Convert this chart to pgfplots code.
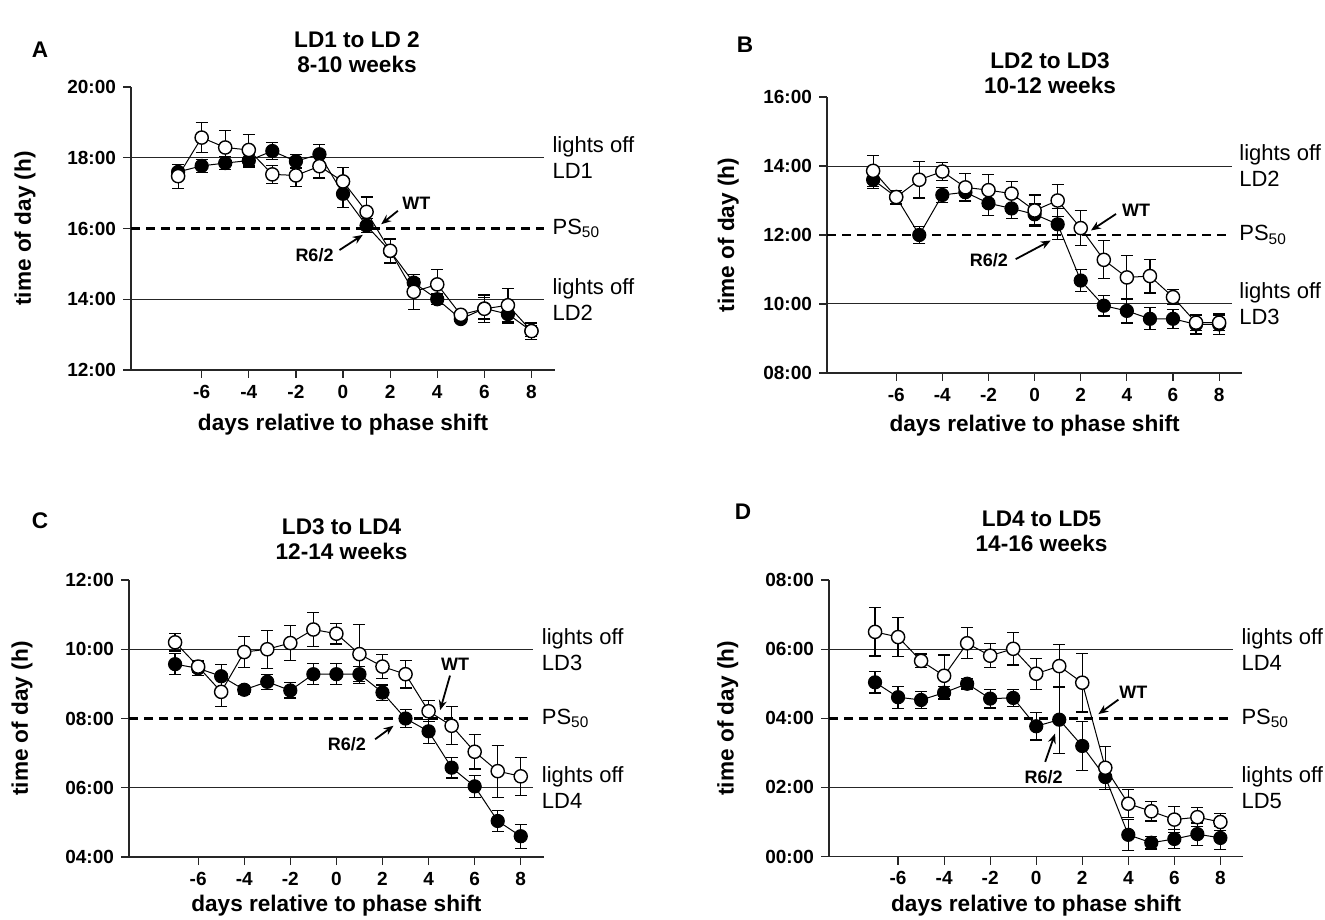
\documentclass[border=0pt]{standalone}
\usepackage{fontspec}
\setmainfont{Liberation Sans}
\usepackage{pgfplots}
\pgfplotsset{compat=1.18}
\usepackage{pgfplotstable}
\usetikzlibrary{arrows.meta}

\pgfplotstableread{
x y e
-7 17.48 0.34
-6 18.57 0.42
-5 18.29 0.48
-4 18.22 0.44
-3 17.53 0.25
-2 17.50 0.32
-1 17.76 0.33
0 17.33 0.39
1 16.47 0.42
2 15.37 0.33
3 14.21 0.49
4 14.42 0.43
5 13.56 0.10
6 13.73 0.39
7 13.83 0.47
8 13.10 0.23
}\AWT
\pgfplotstableread{
x y e
-7 17.60 0.20
-6 17.77 0.19
-5 17.85 0.18
-4 17.92 0.18
-3 18.19 0.24
-2 17.90 0.19
-1 18.10 0.27
0 16.98 0.38
1 16.08 0.20
2 15.36 0.35
3 14.47 0.12
4 14.00 0.15
5 13.44 0.10
6 13.74 0.30
7 13.58 0.25
8 13.10 0.15
}\ARS
\pgfplotstableread{
x y e
-7 13.86 0.45
-6 13.10 0.20
-5 13.60 0.53
-4 13.84 0.26
-3 13.38 0.40
-2 13.30 0.46
-1 13.20 0.35
0 12.71 0.45
1 13.00 0.47
2 12.20 0.50
3 11.28 0.55
4 10.77 0.63
5 10.81 0.49
6 10.20 0.22
7 9.46 0.22
8 9.46 0.22
}\BWT
\pgfplotstableread{
x y e
-7 13.60 0.25
-6 13.10 0.20
-5 12.00 0.25
-4 13.16 0.22
-3 13.24 0.25
-2 12.92 0.35
-1 12.77 0.30
0 12.60 0.30
1 12.31 0.45
2 10.68 0.32
3 9.95 0.30
4 9.80 0.35
5 9.57 0.32
6 9.57 0.28
7 9.41 0.28
8 9.41 0.30
}\BRS
\pgfplotstableread{
x y e
-7 10.20 0.25
-6 9.50 0.18
-5 8.77 0.42
-4 9.92 0.44
-3 10.00 0.55
-2 10.18 0.50
-1 10.57 0.50
0 10.45 0.30
1 9.86 0.85
2 9.50 0.35
3 9.28 0.40
4 8.21 0.30
5 7.79 0.55
6 7.04 0.50
7 6.48 0.75
8 6.33 0.55
}\CWT
\pgfplotstableread{
x y e
-7 9.57 0.30
-6 9.45 0.20
-5 9.22 0.35
-4 8.83 0.12
-3 9.06 0.22
-2 8.81 0.22
-1 9.28 0.30
0 9.28 0.30
1 9.28 0.22
2 8.75 0.22
3 8.00 0.25
4 7.63 0.35
5 6.58 0.30
6 6.04 0.32
7 5.04 0.30
8 4.60 0.35
}\CRS
\pgfplotstableread{
x y e
-7 6.50 0.70
-6 6.35 0.57
-5 5.66 0.20
-4 5.23 0.60
-3 6.17 0.45
-2 5.81 0.35
-1 6.01 0.47
0 5.29 0.45
1 5.51 0.62
2 5.03 0.85
3 2.57 0.62
4 1.53 0.40
5 1.31 0.28
6 1.07 0.37
7 1.14 0.28
8 1.00 0.25
}\DWT
\pgfplotstableread{
x y e
-7 5.04 0.31
-6 4.61 0.32
-5 4.53 0.25
-4 4.74 0.18
-3 5.00 0.15
-2 4.57 0.27
-1 4.59 0.25
0 3.77 0.40
1 3.96 0.97
2 3.20 0.70
3 2.30 0.37
4 0.63 0.45
5 0.40 0.18
6 0.51 0.27
7 0.65 0.32
8 0.54 0.33
}\DRS

\newcommand\tkf{\fontsize{9.5}{11}\selectfont\bfseries}
\newcommand\lbf{\fontsize{11.3}{13}\selectfont\bfseries}
\newcommand\rtf{\fontsize{11}{13}\selectfont}
\newcommand\anf{\fontsize{9}{10}\selectfont\bfseries}

\tikzset{rl/.style={anchor=west, align=left, font=\rtf, inner sep=0pt}}

\pgfplotsset{
  panel/.style={
    scale only axis, anchor=south west,
    axis lines=left, axis line style={-, line width=0.6pt, black!85},
    tick align=outside, major tick length=4pt,
    tick style={line width=0.6pt, black!85},
    xmin=-9, xmax=9,
    xtick={-6,-4,-2,0,2,4,6,8},
    xticklabels={-6,-4,-2,0,2,4,6,8},
    ticklabel style={font=\tkf},
    xlabel={days relative to phase shift},
    ylabel={time of day (h)},
    label style={font=\lbf},
    clip=false,
  },
  rs/.style={black, line width=0.5pt, mark=*, mark size=3.3pt,
    mark options={fill=black, solid},
    error bars/.cd, y dir=both, y explicit,
    error bar style={line width=0.6pt, black},
    error mark options={rotate=90, mark size=3pt, line width=0.6pt, black}},
  wt/.style={black, line width=0.5pt, mark=*, mark size=3.3pt,
    mark options={fill=white, draw=black, line width=0.7pt, solid},
    error bars/.cd, y dir=both, y explicit,
    error bar style={line width=0.6pt, black},
    error mark options={rotate=90, mark size=3pt, line width=0.6pt, black}},
  ref/.style={no marks, line width=0.5pt, black!85},
  ps/.style={no marks, line width=1.3pt, black, dash pattern=on 4.5pt off 3pt},
}

\begin{document}
\begin{tikzpicture}
\useasboundingbox (0,0) rectangle (662.5pt,459.5pt);

% ---------------- A
\begin{axis}[panel, at={(65.5pt,274.5pt)}, width=212pt, height=141.5pt,
  ymin=12, ymax=20, ytick={12,14,16,18,20},
  yticklabels={12:00,14:00,16:00,18:00,20:00},
  xlabel style={at={(axis description cs:0.5,-0.194)}, anchor=center},
  ylabel style={at={(axis description cs:-0.25,0.5)}, anchor=center}]
\addplot[ref] coordinates {(-9,18) (8.55,18)};
\addplot[ref] coordinates {(-9,14) (8.55,14)};
\addplot[ps] coordinates {(-9,16) (8.55,16)};
\addplot[rs] table[x=x,y=y,y error=e] {\ARS};
\addplot[wt] table[x=x,y=y,y error=e] {\AWT};
\node[rl] at (axis cs:8.88,18) {lights off\\LD1};
\node[rl] at (axis cs:8.88,14) {lights off\\LD2};
\node[rl] at (axis cs:8.88,16) {PS\textsubscript{50}};
\node[font=\anf] at (axis cs:3.11,16.71) {WT};
\draw[-{Stealth[length=5pt,width=4pt]}, line width=0.9pt] (axis cs:2.33,16.50) -- (axis cs:1.62,16.12);
\node[font=\anf] at (axis cs:-1.21,15.25) {R6/2};
\draw[-{Stealth[length=5pt,width=4pt]}, line width=0.9pt] (axis cs:-0.15,15.39) -- (axis cs:0.84,15.82);
\end{axis}

% ---------------- B
\begin{axis}[panel, at={(413.5pt,273pt)}, width=207.6pt, height=138pt,
  ymin=8, ymax=16, ytick={8,10,12,14,16},
  yticklabels={08:00,10:00,12:00,14:00,16:00},
  xlabel style={at={(axis description cs:0.5,-0.192)}, anchor=center},
  ylabel style={at={(axis description cs:-0.238,0.5)}, anchor=center}]
\addplot[ref] coordinates {(-9,14) (8.55,14)};
\addplot[ref] coordinates {(-9,10) (8.55,10)};
\addplot[ps] coordinates {(-9,12) (8.55,12)};
\addplot[rs] table[x=x,y=y,y error=e] {\BRS};
\addplot[wt] table[x=x,y=y,y error=e] {\BWT};
\node[rl] at (axis cs:8.86,14) {lights off\\LD2};
\node[rl] at (axis cs:8.86,10) {lights off\\LD3};
\node[rl] at (axis cs:8.86,12) {PS\textsubscript{50}};
\node[font=\anf] at (axis cs:4.40,12.72) {WT};
\draw[-{Stealth[length=5pt,width=4pt]}, line width=0.9pt] (axis cs:3.53,12.61) -- (axis cs:2.44,12.13);
\node[font=\anf] at (axis cs:-1.98,11.26) {R6/2};
\draw[-{Stealth[length=5pt,width=4pt]}, line width=0.9pt] (axis cs:-0.82,11.30) -- (axis cs:0.70,11.84);
\end{axis}

% ---------------- C
\begin{axis}[panel, at={(64.5pt,31pt)}, width=207.4pt, height=138.5pt,
  ymin=4, ymax=12, ytick={4,6,8,10,12},
  yticklabels={04:00,06:00,08:00,10:00,12:00},
  xlabel style={at={(axis description cs:0.5,-0.177)}, anchor=center},
  ylabel style={at={(axis description cs:-0.258,0.5)}, anchor=center}]
\addplot[ref] coordinates {(-9,10) (8.55,10)};
\addplot[ref] coordinates {(-9,6) (8.55,6)};
\addplot[ps] coordinates {(-9,8) (8.55,8)};
\addplot[rs] table[x=x,y=y,y error=e] {\CRS};
\addplot[wt] table[x=x,y=y,y error=e] {\CWT};
\node[rl] at (axis cs:8.9,10) {lights off\\LD3};
\node[rl] at (axis cs:8.9,6) {lights off\\LD4};
\node[rl] at (axis cs:8.9,8) {PS\textsubscript{50}};
\node[font=\anf] at (axis cs:5.15,9.56) {WT};
\draw[-{Stealth[length=5pt,width=4pt]}, line width=0.9pt] (axis cs:4.93,9.24) -- (axis cs:4.50,8.24);
\node[font=\anf] at (axis cs:0.46,7.26) {R6/2};
\draw[-{Stealth[length=5pt,width=4pt]}, line width=0.9pt] (axis cs:1.68,7.40) -- (axis cs:2.48,7.79);
\end{axis}

% ---------------- D
\begin{axis}[panel, at={(414.5pt,31.2pt)}, width=207.2pt, height=138.3pt,
  ymin=0, ymax=8, ytick={0,2,4,6,8},
  yticklabels={00:00,02:00,04:00,06:00,08:00},
  xlabel style={at={(axis description cs:0.5,-0.177)}, anchor=center},
  ylabel style={at={(axis description cs:-0.244,0.5)}, anchor=center}]
\addplot[ref] coordinates {(-9,6) (8.55,6)};
\addplot[ref] coordinates {(-9,2) (8.55,2)};
\addplot[ps] coordinates {(-9,4) (8.55,4)};
\addplot[rs] table[x=x,y=y,y error=e] {\DRS};
\addplot[wt] table[x=x,y=y,y error=e] {\DWT};
\node[rl] at (axis cs:8.9,6) {lights off\\LD4};
\node[rl] at (axis cs:8.9,2) {lights off\\LD5};
\node[rl] at (axis cs:8.9,4) {PS\textsubscript{50}};
\node[font=\anf] at (axis cs:4.22,4.74) {WT};
\draw[-{Stealth[length=5pt,width=4pt]}, line width=0.9pt] (axis cs:3.57,4.54) -- (axis cs:2.70,4.12);
\node[font=\anf] at (axis cs:0.32,2.30) {R6/2};
\draw[-{Stealth[length=5pt,width=4pt]}, line width=0.9pt] (axis cs:0.39,2.74) -- (axis cs:0.82,3.56);
\end{axis}

% titles and panel letters
\node[align=center, font=\fontsize{11.3}{12.5}\selectfont\bfseries] at (178.5pt,433.3pt) {LD1 to LD 2\\8-10 weeks};
\node[align=center, font=\fontsize{11.3}{12.5}\selectfont\bfseries] at (525pt,422.8pt) {LD2 to LD3\\10-12 weeks};
\node[align=center, font=\fontsize{11.3}{12.5}\selectfont\bfseries] at (170.8pt,189.7pt) {LD3 to LD4\\12-14 weeks};
\node[align=center, font=\fontsize{11.3}{12.5}\selectfont\bfseries] at (520.8pt,193.6pt) {LD4 to LD5\\14-16 weeks};
\node[font=\fontsize{11.3}{13}\selectfont\bfseries] at (20pt,434.5pt) {A};
\node[font=\fontsize{11.3}{13}\selectfont\bfseries] at (372.5pt,437pt) {B};
\node[font=\fontsize{11.3}{13}\selectfont\bfseries] at (20pt,199pt) {C};
\node[font=\fontsize{11.3}{13}\selectfont\bfseries] at (371.5pt,203.5pt) {D};
\end{tikzpicture}
\end{document}
